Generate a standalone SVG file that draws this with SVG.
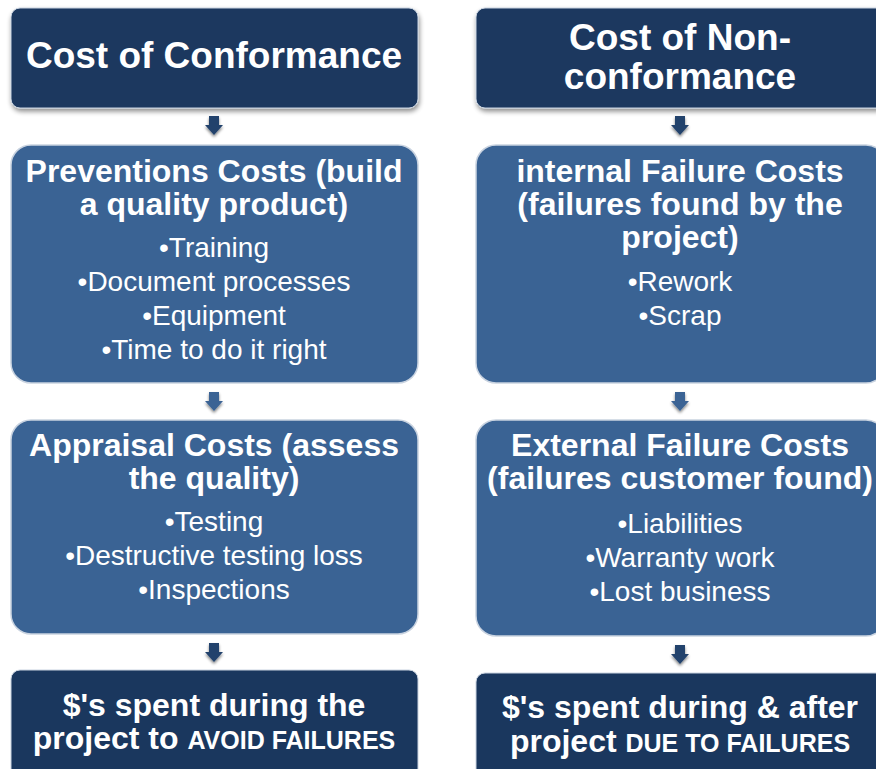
<svg xmlns="http://www.w3.org/2000/svg" width="876" height="769" viewBox="0 0 876 769">
<defs>
<filter id="sh" x="-10%" y="-10%" width="120%" height="130%">
<feGaussianBlur in="SourceAlpha" stdDeviation="2.5"/>
<feOffset dx="1" dy="3" result="b"/>
<feComponentTransfer><feFuncA type="linear" slope="0.45"/></feComponentTransfer>
<feMerge><feMergeNode/><feMergeNode in="SourceGraphic"/></feMerge>
</filter>
<filter id="ash" x="-50%" y="-50%" width="200%" height="200%">
<feGaussianBlur in="SourceAlpha" stdDeviation="1.5"/>
<feOffset dx="0" dy="2" result="b"/>
<feComponentTransfer><feFuncA type="linear" slope="0.5"/></feComponentTransfer>
<feMerge><feMergeNode/><feMergeNode in="SourceGraphic"/></feMerge>
</filter>
<path id="arr" d="M-5,0 H5 V9 H9 L0,19 L-9,9 H-5 Z"/>
</defs>
<style>
.dark{fill:#1a375e;stroke:#c9d3e0;stroke-width:1;}
.mid{fill:#3a6394;stroke:#c9d3e0;stroke-width:1.5;}
text{font-family:"Liberation Sans",Arial,sans-serif;fill:#ffffff;text-anchor:middle;}
.t{font-size:37px;font-weight:bold;}
.h{font-size:32px;font-weight:bold;}
.b{font-size:28px;}
.sm{font-size:25px;}
.ad{fill:#22426c;}
.am{fill:#3a6394;}
</style>
<rect width="876" height="769" fill="#ffffff"/>

<g id="connectors">
<use href="#arr" x="214" y="116" class="ad" filter="url(#ash)"/>
<use href="#arr" x="214" y="392" class="am" filter="url(#ash)"/>
<use href="#arr" x="214" y="643" class="ad" filter="url(#ash)"/>
<use href="#arr" x="680" y="116" class="ad" filter="url(#ash)"/>
<use href="#arr" x="680" y="392" class="am" filter="url(#ash)"/>
<use href="#arr" x="680" y="645" class="ad" filter="url(#ash)"/>
</g>

<g id="conformance">
<rect class="dark" x="11" y="8" width="407" height="100" rx="9" filter="url(#sh)"/>
<text class="t" x="214" y="68">Cost of Conformance</text>
</g>

<g id="prevention">
<rect class="mid" x="11" y="145" width="407" height="238" rx="20"/>
<text class="h" x="214" y="182">Preventions Costs (build</text>
<text class="h" x="214" y="215">a quality product)</text>
<text class="b" x="214" y="257">•Training</text>
<text class="b" x="214" y="291">•Document processes</text>
<text class="b" x="214" y="325">•Equipment</text>
<text class="b" x="214" y="359">•Time to do it right</text>
</g>

<g id="appraisal">
<rect class="mid" x="11" y="420" width="407" height="214" rx="20"/>
<text class="h" x="214" y="456">Appraisal Costs (assess</text>
<text class="h" x="214" y="489">the quality)</text>
<text class="b" x="214" y="531">•Testing</text>
<text class="b" x="214" y="565">•Destructive testing loss</text>
<text class="b" x="214" y="599">•Inspections</text>
</g>

<g id="avoid">
<rect class="dark" x="11" y="670" width="407" height="110" rx="9"/>
<text class="h" x="214" y="716">$'s spent during the</text>
<text class="h" x="214" y="749">project to <tspan class="sm">AVOID FAILURES</tspan></text>
</g>

<g id="nonconformance">
<rect class="dark" x="476" y="8" width="410" height="100" rx="9" filter="url(#sh)"/>
<text class="t" x="680" y="50">Cost of Non-</text>
<text class="t" x="680" y="89">conformance</text>
</g>

<g id="internal">
<rect class="mid" x="476" y="145" width="410" height="238" rx="20"/>
<text class="h" x="680" y="182">internal Failure Costs</text>
<text class="h" x="680" y="215">(failures found by the</text>
<text class="h" x="680" y="248">project)</text>
<text class="b" x="680" y="291">•Rework</text>
<text class="b" x="680" y="325">•Scrap</text>
</g>

<g id="external">
<rect class="mid" x="476" y="420" width="410" height="216" rx="20"/>
<text class="h" x="680" y="456">External Failure Costs</text>
<text class="h" x="680" y="489">(failures customer found)</text>
<text class="b" x="680" y="533">•Liabilities</text>
<text class="b" x="680" y="567">•Warranty work</text>
<text class="b" x="680" y="601">•Lost business</text>
</g>

<g id="due">
<rect class="dark" x="476" y="673" width="410" height="110" rx="9"/>
<text class="h" x="680" y="718">$'s spent during &amp; after</text>
<text class="h" x="680" y="752">project <tspan class="sm">DUE TO FAILURES</tspan></text>
</g>
</svg>
